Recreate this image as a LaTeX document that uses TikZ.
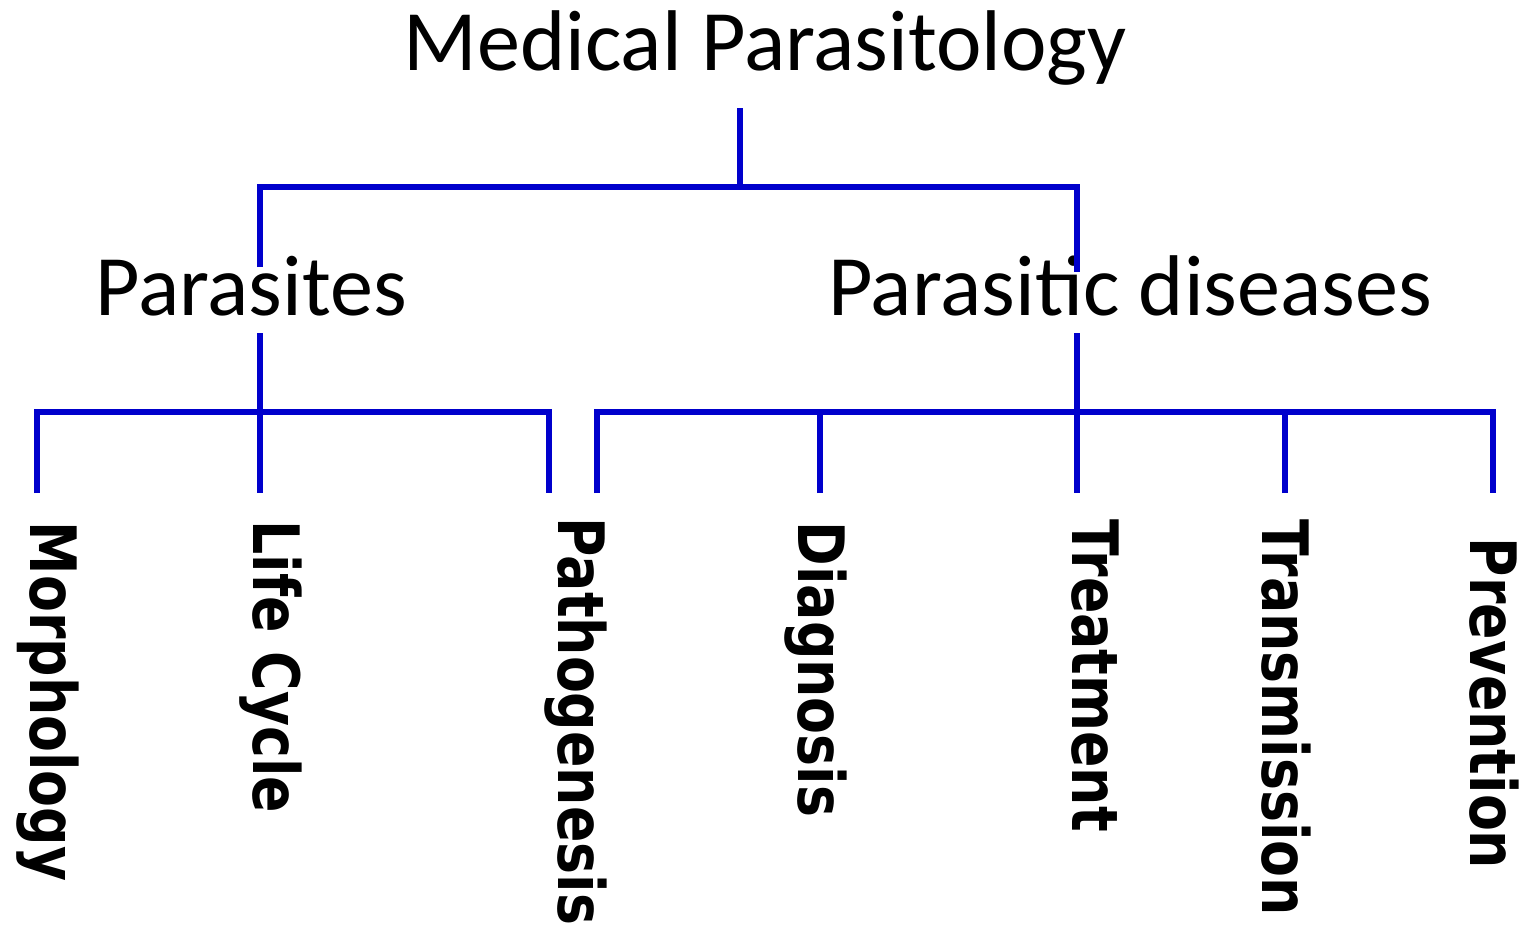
\documentclass[tikz,border=0pt]{standalone}
\usepackage{fontspec}
\usepackage{xcolor}
\usepackage{graphicx}
\usepackage{tikz}
\newfontfamily\headfont{Carlito}
\newfontfamily\leaffont{DejaVu Sans}
\definecolor{linkblue}{RGB}{0,0,204}
\definecolor{ink}{HTML}{000000}
\newcommand{\leaftxt}[1]{\scalebox{0.84}[1]{#1}}
\tikzset{
  link/.style={draw=linkblue, line width=1.6pt},
  head/.style={text=ink, inner sep=0pt, anchor=base, font=\headfont\fontsize{24.5}{29}\selectfont},
  leaf/.style={text=ink, inner sep=0pt, rotate=-90, anchor=base west, font=\leaffont\bfseries\fontsize{18.2}{22}\selectfont},
}

\begin{document}
\begin{tikzpicture}[x=0.01cm, y=0.01cm]
  \useasboundingbox (0,0) rectangle (1528,-929);

  \node[head] (root) at (765,-70) {Medical Parasitology};
  \node[head] (para) at (251,-315) {Parasites};
  \node[head] (dis) at (1130,-315) {Parasitic diseases};

  \node[leaf] (morph) at (30,-521) {\leaftxt{Morphology}};
  \node[leaf] (life) at (253,-520) {\leaftxt{Life Cycle}};
  \node[leaf] (patho) at (558,-517) {\leaftxt{Pathogenesis}};
  \node[leaf] (diag) at (798,-521) {\leaftxt{Diagnosis}};
  \node[leaf] (treat) at (1072,-519) {\leaftxt{Treatment}};
  \node[leaf] (trans) at (1262,-519) {\leaftxt{Transmission}};
  \node[leaf] (prev) at (1470,-537) {\leaftxt{Prevention}};

  % junctions of the upper bus
  \coordinate (stub) at (740,-108);
  \coordinate (j0) at (740,-187);
  \coordinate (jl) at (260,-187);
  \coordinate (jr) at (1077,-187);
  \coordinate (pl) at (260,-267);
  \coordinate (pr) at (1077,-272);

  \draw[link] (stub) -- (j0);
  \draw[link] (pl) -- (jl) -- (jr) -- (pr);

  % lower buses
  \coordinate (ql) at (260,-333);
  \coordinate (qr) at (1077,-333);
  \coordinate (m1) at (37,-493);
  \coordinate (m2) at (260,-493);
  \coordinate (m3) at (549,-493);
  \coordinate (n1) at (597,-493);
  \coordinate (n2) at (820,-493);
  \coordinate (n3) at (1077,-493);
  \coordinate (n4) at (1285,-493);
  \coordinate (n5) at (1493,-493);

  \draw[link] (m1) -- (37,-412) -- (549,-412) -- (m3);
  \draw[link] (ql) -- (m2);
  \draw[link] (n1) -- (597,-412) -- (1493,-412) -- (n5);
  \draw[link] (n2) -- (820,-412);
  \draw[link] (qr) -- (n3);
  \draw[link] (n4) -- (1285,-412);
\end{tikzpicture}
\end{document}
